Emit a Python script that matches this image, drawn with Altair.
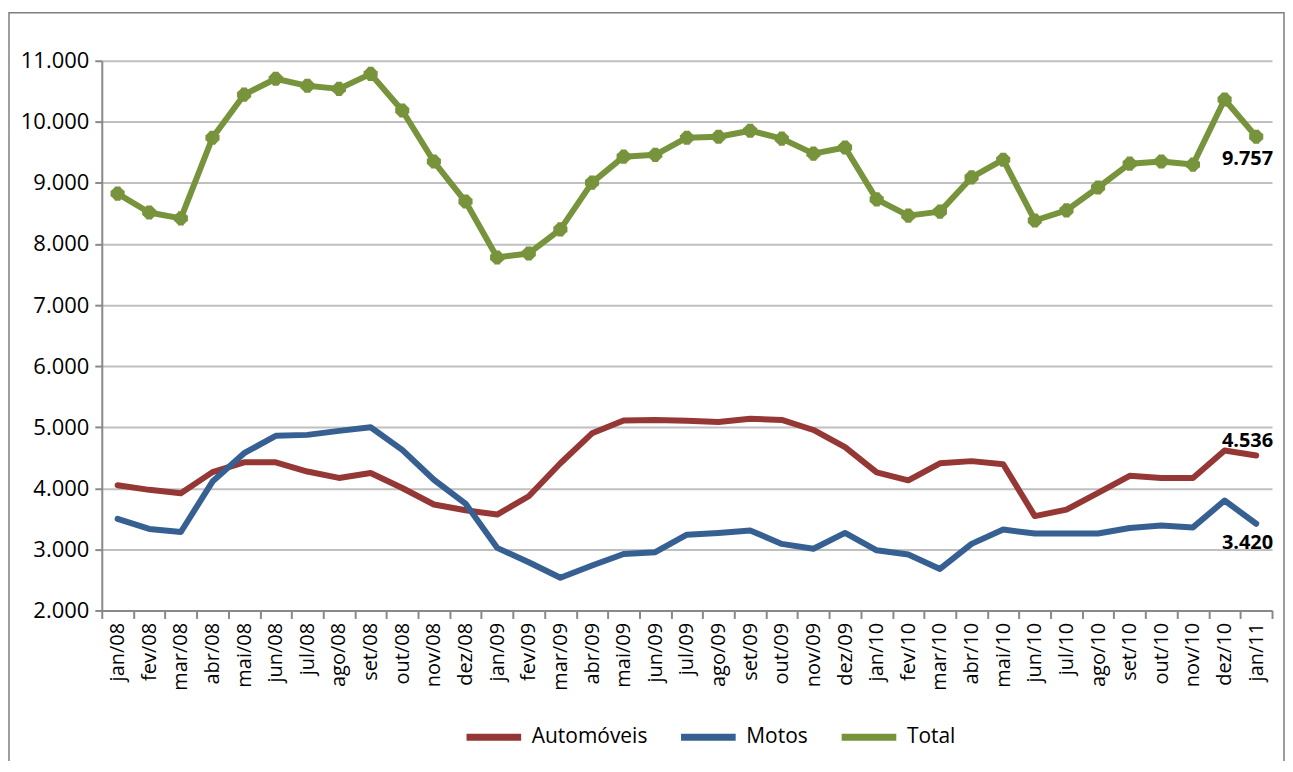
import altair as alt
import pandas as pd

months = ["jan/08", "fev/08", "mar/08", "abr/08", "mai/08", "jun/08", "jul/08", "ago/08",
          "set/08", "out/08", "nov/08", "dez/08", "jan/09", "fev/09", "mar/09", "abr/09",
          "mai/09", "jun/09", "jul/09", "ago/09", "set/09", "out/09", "nov/09", "dez/09",
          "jan/10", "fev/10", "mar/10", "abr/10", "mai/10", "jun/10", "jul/10", "ago/10",
          "set/10", "out/10", "nov/10", "dez/10", "jan/11"]

automoveis = [4050, 3975, 3920, 4265, 4425, 4425, 4275, 4170, 4250, 4005, 3735, 3640,
              3570, 3870, 4410, 4900, 5110, 5120, 5105, 5085, 5140, 5120, 4955, 4675,
              4260, 4130, 4410, 4445, 4395, 3545, 3650, 3925, 4205, 4170, 4170, 4620, 4536]

motos = [3500, 3335, 3285, 4110, 4575, 4860, 4875, 4940, 5000, 4630, 4140, 3750,
         3025, 2790, 2535, 2735, 2925, 2955, 3240, 3270, 3310, 3090, 3010, 3270,
         2985, 2915, 2680, 3090, 3325, 3260, 3260, 3260, 3350, 3390, 3360, 3800, 3420]

total = [8825, 8515, 8420, 9740, 10445, 10705, 10590, 10540, 10785, 10185, 9350, 8695,
         7780, 7845, 8240, 9005, 9430, 9460, 9740, 9755, 9855, 9725, 9480, 9580,
         8730, 8465, 8530, 9090, 9380, 8385, 8550, 8925, 9315, 9350, 9300, 10365, 9757]

series = ["Automóveis", "Motos", "Total"]
colors = ["#953735", "#376092", "#77933C"]

rows = []
for name, vals in zip(series, [automoveis, motos, total]):
    for m, v in zip(months, vals):
        rows.append({"mes": m, "serie": name, "valor": v})
df = pd.DataFrame(rows)

last = pd.DataFrame([
    {"mes": months[-1], "serie": s, "valor": vals[-1],
     "txt": f"{vals[-1]:,}".replace(",", ".")}
    for s, vals in zip(series, [automoveis, motos, total])
])

FONT = "Open Sans"

x_enc = alt.X("mes:N", sort=months,
              scale=alt.Scale(type="band", paddingInner=0, paddingOuter=0),
              axis=alt.Axis(title=None, labelAngle=-90, labelAlign="right", labelBaseline="middle",
                            tickBand="extent", grid=False, labelFontSize=20, labelPadding=4,
                            tickSize=8))
y_enc = alt.Y("valor:Q",
              scale=alt.Scale(domain=[2000, 11000], nice=False, zero=False),
              axis=alt.Axis(title=None, values=list(range(2000, 11001, 1000)),
                            labelExpr="replace(format(datum.value, ','), ',', '.')",
                            grid=True, labelFontSize=22, tickSize=7, labelPadding=6))

base = alt.Chart(df)

lines = base.mark_line(strokeWidth=6, strokeCap="round", strokeJoin="round").encode(
    x=x_enc, y=y_enc,
    color=alt.Color("serie:N",
                    scale=alt.Scale(domain=series, range=colors),
                    legend=alt.Legend(title=None, orient="none", legendX=362, legendY=647,
                                      direction="horizontal", symbolType="stroke",
                                      symbolSize=3000, symbolStrokeWidth=7,
                                      labelFontSize=21, labelOffset=7, columnPadding=19,
                                      labelColor="#000000", labelFont=FONT)),
    order=alt.Order("serie:N"),
)

pts1 = base.transform_filter(alt.datum.serie == "Total").mark_point(
    shape="cross", filled=True, size=200, color="#77933C", opacity=1).encode(x=x_enc, y=y_enc)
pts2 = base.transform_filter(alt.datum.serie == "Total").mark_point(
    shape="cross", filled=True, size=170, angle=45, color="#77933C", opacity=1).encode(x=x_enc, y=y_enc)

lab_base = alt.Chart(last)
lab_tot = lab_base.transform_filter(alt.datum.serie == "Total").mark_text(
    align="right", baseline="middle", dx=17, dy=22, fontSize=20, fontWeight="bold",
    font=FONT, color="#000000").encode(x=x_enc, y=y_enc, text="txt:N")
lab_aut = lab_base.transform_filter(alt.datum.serie == "Automóveis").mark_text(
    align="right", baseline="middle", dx=17, dy=-15, fontSize=20, fontWeight="bold",
    font=FONT, color="#000000").encode(x=x_enc, y=y_enc, text="txt:N")
lab_mot = lab_base.transform_filter(alt.datum.serie == "Motos").mark_text(
    align="right", baseline="middle", dx=17, dy=19, fontSize=20, fontWeight="bold",
    font=FONT, color="#000000").encode(x=x_enc, y=y_enc, text="txt:N")

border = alt.Chart(pd.DataFrame({"k": [0]})).mark_rect(
    filled=False, stroke="#7f7f7f", strokeWidth=1.5).encode(
    x=alt.value(-93), x2=alt.value(1185), y=alt.value(-48), y2=alt.value(780))

chart = alt.layer(border, lines, pts1, pts2, lab_tot, lab_aut, lab_mot).properties(
    width=1173, height=551,
    autosize=alt.AutoSizeParams(type="none"),
    padding={"left": 94, "top": 52, "right": 13, "bottom": 150},
).configure_view(stroke=None).configure_axis(
    domainColor="#898989", domainWidth=2, tickColor="#898989", tickWidth=2,
    gridColor="#c0c0c0", gridWidth=2, labelColor="#000000", labelFont=FONT,
).configure_legend(labelFont=FONT)

chart.save("out.html", embed_options={"renderer": "svg", "actions": False})
